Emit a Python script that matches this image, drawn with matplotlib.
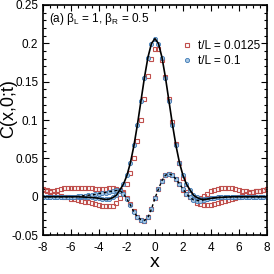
import numpy as np
import matplotlib
matplotlib.use("Agg")
import matplotlib.pyplot as plt
from matplotlib.ticker import MultipleLocator

plt.rc('font', family=['Liberation Sans', 'DejaVu Sans'])
plt.rc('mathtext', fontset='custom', rm='Liberation Sans', it='Liberation Sans:italic')
plt.rc('axes', unicode_minus=False)

# sampling grid in x (step 0.25)
x = np.arange(-8, 8.001, 0.25)

# theory, main peak (solid black)
peak_theory = [
    0.000, 0.000, 0.000, 0.000, 0.000, 0.000, 0.000, 0.000,
    0.000, 0.000, 0.000, -0.0003, -0.0005, -0.0008, -0.001, -0.0015,
    -0.002, -0.003, -0.0035, -0.003, -0.001, 0.002, 0.009, 0.0164,
    0.0279, 0.0446, 0.0669, 0.0943, 0.1249, 0.1555, 0.1818, 0.1997,
    0.206,
    0.1997, 0.1818, 0.1555, 0.1249, 0.0943, 0.0669, 0.0446, 0.0279,
    0.0164, 0.009, 0.002, -0.001, -0.003, -0.0035, -0.003, -0.002,
    -0.0015, -0.001, -0.0008, -0.0005, -0.0003, 0.000, 0.000, 0.000,
    0.000, 0.000, 0.000, 0.000, 0.000, 0.000, 0.000, 0.000,
]

# theory, odd curve (dashed black)
odd_theory = [
    0.000, 0.000, 0.000, 0.000, 0.000, 0.000, 0.000, 0.000,
    0.000, 0.000, 0.0005, 0.001, 0.0015, 0.002, 0.0025, 0.003,
    0.004, 0.005, 0.0055, 0.0065, 0.0075, 0.0082, 0.008, 0.004,
    -0.003, -0.011, -0.020, -0.026, -0.030, -0.031, -0.027, -0.016,
    -0.002,
    0.010, 0.021, 0.028, 0.030, 0.028, 0.023, 0.017, 0.010,
    0.004, -0.001, -0.004, -0.005, -0.005, -0.004, -0.003, -0.002,
    -0.0015, -0.001, -0.0007, -0.0005, -0.0003, 0.000, 0.000, 0.000,
    0.000, 0.000, 0.000, 0.000, 0.000, 0.000, 0.000, 0.000,
]

# t/L = 0.0125 (red squares)
peak_0125 = [
    0.009, 0.008, 0.006, 0.004, 0.002, 0.001, 0.000, -0.001,
    -0.0025, -0.0035, -0.0045, -0.0055, -0.0065, -0.0075, -0.0085, -0.0095,
    -0.0105, -0.0115, -0.012, -0.012, -0.012, -0.008, -0.002, 0.006,
    0.016, 0.031, 0.050, 0.073, 0.100, 0.128, 0.157, 0.180,
    0.193,
    0.192, 0.178, 0.156, 0.128, 0.098, 0.069, 0.044, 0.025,
    0.012, 0.004, -0.003, -0.008, -0.010, -0.011, -0.011, -0.0105,
    -0.0095, -0.0085, -0.0075, -0.006, -0.0045, -0.003, -0.0015, 0.000,
    0.0015, 0.003, 0.0045, 0.006, 0.007, 0.008, 0.009, 0.0100,
]
odd_0125 = [
    0.0095, 0.009, 0.008, 0.007, 0.009, 0.0105, 0.011, 0.0115,
    0.0115, 0.0115, 0.0115, 0.0115, 0.011, 0.011, 0.011, 0.0105,
    0.0105, 0.0105, 0.0105, 0.011, 0.011, 0.0105, 0.009, 0.005,
    -0.002, -0.010, -0.019, -0.026, -0.030, -0.031, -0.027, -0.016,
    -0.002,
    0.010, 0.021, 0.028, 0.030, 0.028, 0.023, 0.016, 0.009,
    0.003, -0.001, -0.003, -0.003, -0.002, 0.001, 0.004, 0.007,
    0.009, 0.0105, 0.0115, 0.0118, 0.0115, 0.011, 0.010, 0.009,
    0.008, 0.007, 0.0065, 0.0065, 0.007, 0.008, 0.009, 0.0095,
]

# t/L = 0.1 (blue circles)
peak_01 = [
    0.000, 0.000, 0.000, 0.000, 0.000, 0.000, 0.000, 0.000,
    0.000, 0.000, 0.000, -0.0003, -0.0005, -0.0008, -0.001, -0.0015,
    -0.002, -0.003, -0.0035, -0.003, -0.001, 0.002, 0.009, 0.0165,
    0.028, 0.0445, 0.067, 0.094, 0.125, 0.155, 0.181, 0.199,
    0.205,
    0.199, 0.181, 0.155, 0.125, 0.094, 0.067, 0.0445, 0.028,
    0.0165, 0.009, 0.002, -0.001, -0.003, -0.0035, -0.003, -0.002,
    -0.0015, -0.001, -0.0008, -0.0005, -0.0003, 0.000, 0.000, 0.000,
    0.000, 0.000, 0.000, 0.000, 0.000, 0.000, 0.000, 0.000,
]
odd_01 = [
    0.000, 0.000, 0.000, 0.000, 0.000, 0.000, 0.000, 0.000,
    0.000, 0.000, 0.0005, 0.001, 0.0015, 0.002, 0.0025, 0.003,
    0.004, 0.005, 0.0055, 0.0065, 0.0075, 0.0082, 0.008, 0.004,
    -0.003, -0.011, -0.020, -0.026, -0.030, -0.031, -0.027, -0.016,
    -0.002,
    0.010, 0.021, 0.028, 0.030, 0.028, 0.023, 0.017, 0.010,
    0.004, -0.001, -0.004, -0.005, -0.005, -0.004, -0.003, -0.002,
    -0.0015, -0.001, -0.0007, -0.0005, -0.0003, 0.000, 0.000, 0.000,
    0.000, 0.000, 0.000, 0.000, 0.000, 0.000, 0.000, 0.000,
]

RED = "#c0504d"
BLUE = "#3c78b4"

fig = plt.figure(figsize=(2.74, 2.74), dpi=100)
ax = fig.add_axes([0.157, 0.142, 0.817, 0.840])

sq = dict(marker='s', ms=3.0, mfc='none', mec=RED, mew=0.8, ls='none')
ci = dict(marker='o', ms=3.0, mfc='#a9c8e4', mec=BLUE, mew=0.6, ls='none')

ax.plot(x, peak_0125, label="t/L = 0.0125", **sq)
ax.plot(x, odd_0125, **sq)
ax.plot(x, peak_01, label="t/L = 0.1", **ci)
ax.plot(x, odd_01, **ci)
ax.plot(x, peak_theory, color='black', lw=1.2)
ax.plot(x, odd_theory, color='black', lw=1.0, ls=(0, (2, 2)))

ax.set_xlim(-8, 8)
ax.set_ylim(-0.05, 0.25)
ax.xaxis.set_major_locator(MultipleLocator(2))
ax.xaxis.set_minor_locator(MultipleLocator(0.5))
ax.yaxis.set_minor_locator(MultipleLocator(0.01))
ax.set_yticks([-0.05, 0, 0.05, 0.1, 0.15, 0.2, 0.25])
ax.set_yticklabels(["-0.05", "0", "0.05", "0.1", "0.15", "0.2", "0.25"])
ax.tick_params(which='both', direction='in', top=True, right=True, labelsize=8.5, width=0.8)
ax.tick_params(which='major', length=4)
ax.tick_params(which='minor', length=2)
ax.tick_params(axis='x', pad=5)
for s in ax.spines.values():
    s.set_linewidth(1.2)

ax.set_xlabel("x", fontsize=14, labelpad=0)
ax.set_ylabel("C(x,0;t)", fontsize=13)
ax.yaxis.set_label_coords(-0.115, 0.55)

ax.text(0.025, 0.975, r"(a) β$_\mathrm{L}$ = 1, β$_\mathrm{R}$ = 0.5", transform=ax.transAxes,
        fontsize=8.5, va='top', ha='left')
ax.legend(loc='upper right', bbox_to_anchor=(1.0, 0.88), frameon=False, fontsize=8.5,
          handletextpad=0.3, handlelength=1.2, borderaxespad=0.2, labelspacing=0.3)

fig.savefig("out.png", dpi=100)
